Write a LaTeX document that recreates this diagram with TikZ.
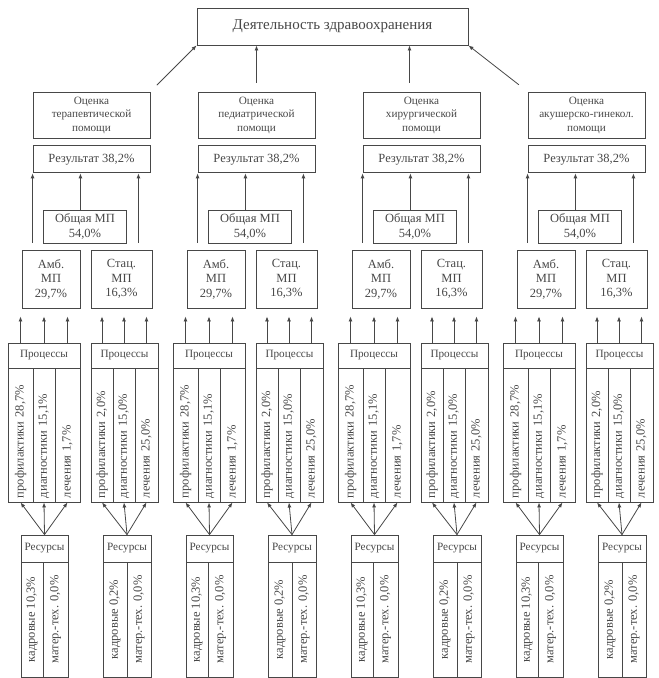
\documentclass[tikz,border=0pt]{standalone}
\usepackage{fontspec}
\setmainfont{Liberation Serif}
\usetikzlibrary{arrows.meta,positioning}

\begin{document}
\begin{tikzpicture}[
  x=1pt, y=-1pt,
  font=\fontsize{12.5}{14.5}\selectfont, color=black!72,
  box/.style={draw, line width=0.9pt, align=center, inner sep=1pt},
  small/.style={font=\fontsize{11.2}{13.5}\selectfont},
  vcol/.style={draw, line width=0.9pt, rotate=90, inner xsep=4pt, inner ysep=0pt, minimum height=#1},
  arr/.style={-{Latex[length=5pt,width=4pt]}, line width=0.8pt}
]
\useasboundingbox (0,0) rectangle (659,678);
\node[box, minimum width=271pt, minimum height=37pt, font=\fontsize{15}{17}\selectfont] (top) at (332.5,26.5) {Деятельность здравоохранения};

\foreach \g/\dept in {0/терапевтической,1/педиатрической,2/хирургической,3/акушерско-гинекол.}{
\begin{scope}[xshift=\g*165pt]
  % оценка и результат
  \node[box, small, minimum width=117pt, minimum height=46pt] (ocen\g) at (91.5,115) {Оценка\\\dept\\помощи};
  \node[box, minimum width=117pt, minimum height=27pt, below=7pt of ocen\g] (res\g) {Результат 38,2\%};
  \node[box, minimum width=83pt, minimum height=33pt] (obsh\g) at (85,226.5) {Общая МП\\54,0\%};
  \node[box, minimum width=58pt, minimum height=58pt] (amb\g) at (51,279) {Амб.\\МП\\29,7\%};
  \node[box, minimum width=61pt, minimum height=58pt] (stac\g) at (121.5,279) {Стац.\\МП\\16,3\%};
  % процессы
  \node[box, small, minimum width=72pt, minimum height=25pt] (pah\g) at (44,355.5) {Процессы};
  \node[vcol=25pt, minimum width=134pt, text width=126pt, align=left] (pa\g1) at (20.5,435) {профилактики 28,7\%};
  \node[vcol=22pt, minimum width=134pt, text width=126pt, align=left] (pa\g2) at (44,435) {диагностики 15,1\%};
  \node[vcol=25pt, minimum width=134pt, text width=126pt, align=left] (pa\g3) at (67.5,435) {лечения 1,7\%};
  \node[box, small, minimum width=67pt, minimum height=25pt] (psh\g) at (124.5,355.5) {Процессы};
  \node[vcol=22pt, minimum width=134pt, text width=126pt, align=left] (ps\g1) at (102,435) {профилактики 2,0\%};
  \node[vcol=22pt, minimum width=134pt, text width=126pt, align=left] (ps\g2) at (124,435) {диагностики 15,0\%};
  \node[vcol=23pt, minimum width=134pt, text width=126pt, align=left] (ps\g3) at (146.5,435) {лечения 25,0\%};
  % ресурсы
  \node[box, small, minimum width=47pt, minimum height=27pt] (rah\g) at (44.5,548.5) {Ресурсы};
  \node[vcol=22pt, minimum width=115pt] (ra\g1) at (32,619.5) {кадровые 10,3\%};
  \node[vcol=25pt, minimum width=115pt] (ra\g2) at (55.5,619.5) {матер.-тех. 0,0\%};
  \node[box, small, minimum width=48pt, minimum height=27pt] (rsh\g) at (127,548.5) {Ресурсы};
  \node[vcol=24pt, minimum width=115pt] (rs\g1) at (115,619.5) {кадровые 0,2\%};
  \node[vcol=24pt, minimum width=115pt] (rs\g2) at (139,619.5) {матер.-тех. 0,0\%};
  % связи
  \draw[arr, shorten <=7pt] (amb\g.north -| res\g.west) -- (res\g.south west);
  \draw[arr] (obsh\g.north -| amb\g.east) -- (res\g.south -| amb\g.east);
  \draw[arr, shorten <=7pt] ([xshift=-12pt]res\g.south east |- stac\g.north) -- ([xshift=-12pt]res\g.south east);
  \foreach \c in {1,2,3}{
    \draw[arr, shorten >=8pt] (pa\g\c.east |- pah\g.north) -- (pa\g\c.east |- amb\g.south);
    \draw[arr, shorten >=8pt] (ps\g\c.east |- psh\g.north) -- (ps\g\c.east |- stac\g.south);
    \draw[arr] (rah\g.north) -- (pa\g\c.west);
    \draw[arr] (rsh\g.north) -- (ps\g\c.west);
  }
\end{scope}
}
\draw[arr, shorten <=9pt] (ocen0.north east) -- (top.south west);
\draw[arr, shorten <=9pt] (ocen1.north) -- (ocen1.north |- top.south);
\draw[arr, shorten <=9pt] ([xshift=-12pt]ocen2.north) -- ([xshift=-12pt]ocen2.north |- top.south);
\draw[arr, shorten <=11pt] (ocen3.north west) -- (top.south east);
\end{tikzpicture}
\end{document}
